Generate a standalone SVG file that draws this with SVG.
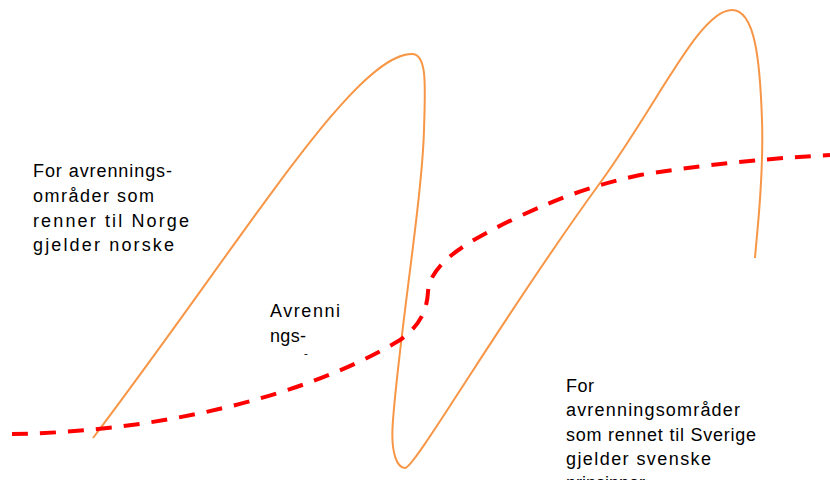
<svg xmlns="http://www.w3.org/2000/svg" width="830" height="485" viewBox="0 0 830 485">
<style>
.lbl{font-family:"Liberation Sans",Arial,sans-serif;font-size:18px;fill:#000}
.orange{fill:none;stroke:#F79646;stroke-width:2}
.border{fill:none;stroke:#FF0000;stroke-width:4;stroke-dasharray:16 12}
</style>
<defs>
<clipPath id="clipMid"><rect x="260" y="290" width="120" height="65"/></clipPath>
<clipPath id="clipRight"><rect x="555" y="360" width="230" height="120"/></clipPath>
</defs>
<rect width="830" height="485" fill="#fff"/>
<g id="connectors">
<path id="orange-line" class="orange" d="M93,438 C250,230 355,54 412,54 C428,54 425,90 424,130 C422,200 400,330 393,420 C390,455 398,468 405,468 C415,468 500,320 600,183 C660,100 700,10 732,10 C755,10 760,60 762,120 C764,180 757,230 755,258"/>
<path id="red-border" class="border" d="M12,434 C150,432 300,400 400,340 C420,326 427,310 428,292 C430,262 470,240 520,216 C560,198 590,186 640,175 C720,162 780,158 830,155"/>
</g>
<g id="norway-label">
<text class="lbl" x="33" y="177" textLength="139" lengthAdjust="spacing">For avrennings-</text>
<text class="lbl" x="33" y="202" textLength="121" lengthAdjust="spacing">områder som</text>
<text class="lbl" x="33" y="227" textLength="156" lengthAdjust="spacing">renner til Norge</text>
<text class="lbl" x="33" y="251" textLength="141" lengthAdjust="spacing">gjelder norske</text>
</g>
<g id="middle-label" clip-path="url(#clipMid)">
<text class="lbl" x="270" y="317" textLength="70" lengthAdjust="spacing">Avrenni</text>
<text class="lbl" x="270" y="342" textLength="36" lengthAdjust="spacing">ngs-</text>
<text class="lbl" x="270" y="369">områder</text>
</g>
<g id="sweden-label" clip-path="url(#clipRight)">
<text class="lbl" x="566" y="392" textLength="28" lengthAdjust="spacing">For</text>
<text class="lbl" x="566" y="416" textLength="174" lengthAdjust="spacing">avrenningsområder</text>
<text class="lbl" x="566" y="441" textLength="190" lengthAdjust="spacing">som rennet til Sverige</text>
<text class="lbl" x="566" y="465" textLength="145" lengthAdjust="spacing">gjelder svenske</text>
<text class="lbl" x="566" y="489">prinsipper</text>
</g>
</svg>
